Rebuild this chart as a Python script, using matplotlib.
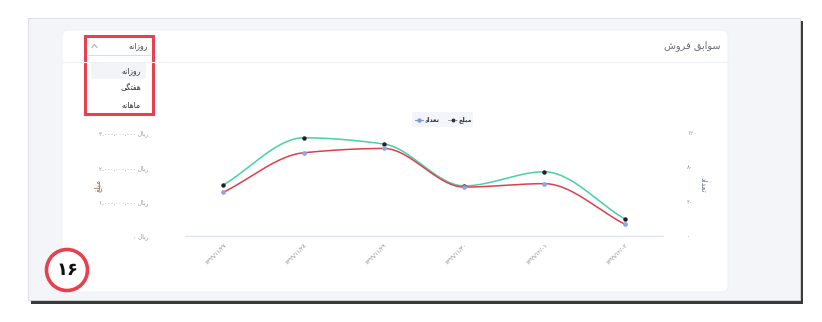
import numpy as np
import matplotlib
matplotlib.use("Agg")
import matplotlib.pyplot as plt
from matplotlib.patches import FancyBboxPatch, Rectangle, Circle

plt.rcParams['font.family'] = ['DejaVu Sans']

# ---- data -------------------------------------------------------------
dates = ['۱۳۹۹/۱۱/۲۷', '۱۳۹۹/۱۱/۲۸', '۱۳۹۹/۱۱/۲۹', '۱۳۹۹/۱۱/۳۰', '۱۳۹۹/۱۲/۰۱', '۱۳۹۹/۱۲/۰۲']
amounts = [1.49e9, 2.86e9, 2.68e9, 1.46e9, 1.87e9, 0.50e9]   # مبلغ (ریال)
counts = [51, 97, 102, 57, 61, 14]                             # تعداد
amount_ticks = [0, 1e9, 2e9, 3e9]
count_ticks = [0, 40, 80, 120]
periods = ['روزانه', 'هفتگی', 'ماهانه']

# ---- minimal Persian shaping (presentation forms, visual order) -------
FORMS = {
    'ا': ('\uFE8D', '\uFE8E', None, None),
    'ب': ('\uFE8F', '\uFE90', '\uFE91', '\uFE92'),
    'ت': ('\uFE95', '\uFE96', '\uFE97', '\uFE98'),
    'د': ('\uFEA9', '\uFEAA', None, None),
    'ر': ('\uFEAD', '\uFEAE', None, None),
    'ز': ('\uFEAF', '\uFEB0', None, None),
    'س': ('\uFEB1', '\uFEB2', '\uFEB3', '\uFEB4'),
    'ش': ('\uFEB5', '\uFEB6', '\uFEB7', '\uFEB8'),
    'ع': ('\uFEC9', '\uFECA', '\uFECB', '\uFECC'),
    'غ': ('\uFECD', '\uFECE', '\uFECF', '\uFED0'),
    'ف': ('\uFED1', '\uFED2', '\uFED3', '\uFED4'),
    'ق': ('\uFED5', '\uFED6', '\uFED7', '\uFED8'),
    'ل': ('\uFEDD', '\uFEDE', '\uFEDF', '\uFEE0'),
    'م': ('\uFEE1', '\uFEE2', '\uFEE3', '\uFEE4'),
    'ن': ('\uFEE5', '\uFEE6', '\uFEE7', '\uFEE8'),
    'ه': ('\uFEE9', '\uFEEA', '\uFEEB', '\uFEEC'),
    'و': ('\uFEED', '\uFEEE', None, None),
    'گ': ('\uFB92', '\uFB93', '\uFB94', '\uFB95'),
    'ی': ('\uFBFC', '\uFBFD', '\uFBFE', '\uFBFF'),
}


def dual(ch):
    return ch in FORMS and FORMS[ch][2] is not None


def fa(text):
    out = []
    for i, ch in enumerate(text):
        if ch not in FORMS:
            out.append(ch)
            continue
        prev = text[i - 1] if i > 0 else ''
        nxt = text[i + 1] if i + 1 < len(text) else ''
        jp = dual(prev)
        jn = dual(ch) and nxt in FORMS
        iso, fin, ini, med = FORMS[ch]
        if jp and jn:
            out.append(med)
        elif jp:
            out.append(fin)
        elif jn:
            out.append(ini)
        else:
            out.append(iso)
    return ''.join(reversed(out))


FA_DIGITS = str.maketrans('0123456789', '۰۱۲۳۴۵۶۷۸۹')


def fa_num(v):
    return format(int(v), ',').translate(FA_DIGITS)


def monotone(x, y, n=60):
    """Fritsch-Carlson monotone cubic through the points."""
    x = np.asarray(x, float)
    y = np.asarray(y, float)
    h = np.diff(x)
    d = np.diff(y) / h
    m = np.zeros_like(y)
    m[0], m[-1] = d[0], d[-1]
    for k in range(1, len(y) - 1):
        if d[k - 1] * d[k] <= 0:
            m[k] = 0
        else:
            w1 = 2 * h[k] + h[k - 1]
            w2 = h[k] + 2 * h[k - 1]
            m[k] = (w1 + w2) / (w1 / d[k - 1] + w2 / d[k])
    xs, ys = [], []
    for k in range(len(h)):
        t = np.linspace(0, 1, n, endpoint=(k == len(h) - 1))
        h00 = 2 * t**3 - 3 * t**2 + 1
        h10 = t**3 - 2 * t**2 + t
        h01 = -2 * t**3 + 3 * t**2
        h11 = t**3 - t**2
        xs.append(x[k] + t * h[k])
        ys.append(h00 * y[k] + h10 * h[k] * m[k] + h01 * y[k + 1] + h11 * h[k] * m[k + 1])
    return np.concatenate(xs), np.concatenate(ys)


# ---- figure & page decoration ------------------------------------------
W, H = 822, 322
PX = 72 / 100  # points per pixel at dpi 100
fig = plt.figure(figsize=(W / 100, H / 100), dpi=100)
fig.patch.set_facecolor('white')

bg = fig.add_axes([0, 0, 1, 1])
bg.set_xlim(0, W)
bg.set_ylim(H, 0)
bg.axis('off')

# page shadow and light page
bg.add_patch(Rectangle((31, 21), 772, 283, facecolor='#3a3a3a', edgecolor='none'))
bg.add_patch(Rectangle((28, 18), 772, 282, facecolor='#f4f5f8', edgecolor='#d8dadf', lw=0.6))

# card
bg.add_patch(FancyBboxPatch((62, 30), 666, 262, boxstyle='round,pad=0,rounding_size=6',
                            facecolor='white', edgecolor='#eceef2', lw=0.6))
bg.plot([62, 728], [62, 62], color='#f0f1f4', lw=0.8)
bg.text(720, 46, fa('سوابق فروش'), ha='right', va='center', fontsize=7, color='#6b6f76')

# period dropdown
bg.plot([88, 150], [55, 55], color='#bfe9f2', lw=0.8)
bg.text(148, 46, fa(periods[0]), ha='right', va='center', fontsize=5.5, color='#444')
bg.plot([92, 94.5, 97], [47.5, 44.5, 47.5], color='#aaaaaa', lw=0.7)
bg.add_patch(FancyBboxPatch((91, 62), 55, 17, boxstyle='round,pad=0,rounding_size=2',
                            facecolor='#f3f4f8', edgecolor='none'))
for i, p in enumerate(periods):
    bg.text(141, 70.5 + i * 17.5, fa(p), ha='right', va='center', fontsize=5.5, color='#333')
bg.add_patch(Rectangle((85, 36), 68, 78, facecolor='none', edgecolor='#e5414f', lw=2.2))

# legend
bg.add_patch(FancyBboxPatch((412, 112), 61, 15, boxstyle='round,pad=0,rounding_size=2',
                            facecolor='#f3f5fa', edgecolor='none'))
bg.plot([415, 423], [119.5, 119.5], color='#7f9be0', lw=0.8)
bg.plot([419], [119.5], 'o', color='#7f9be0', ms=2.2)
bg.text(440, 119.5, fa('تعداد'), ha='right', va='center', fontsize=4.6, color='#333', fontweight='bold')
bg.plot([448, 457], [119.5, 119.5], color='#555', lw=0.7, ls=(0, (1, 1)))
bg.plot([452.5], [119.5], 'o', color='#333', ms=1.8)
bg.text(472, 119.5, fa('مبلغ'), ha='right', va='center', fontsize=4.6, color='#333', fontweight='bold')

# badge
bg.add_patch(Circle((67, 270), 20.5, facecolor='white', edgecolor='#e5414f', lw=2.6))
bg.text(67, 270, '۱۶', ha='center', va='center', fontsize=13, fontweight='bold', color='#111')

# ---- chart -------------------------------------------------------------
x0, x1, yb, yt = 185, 663, 236, 133
ax = fig.add_axes([x0 / W, (H - yb) / H, (x1 - x0) / W, (yb - yt) / H])
ax.patch.set_alpha(0)
ax2 = ax.twinx()

pos = np.arange(len(dates))
xpad = 0.48
ax.set_xlim(pos[0] - xpad, pos[-1] + xpad)
ax.set_ylim(0, amount_ticks[-1])
ax2.set_ylim(0, count_ticks[-1])

sx, sy = monotone(pos, amounts)
ax.plot(sx, sy, color='#45d3a2', lw=1.1, clip_on=False, zorder=3)
ax.plot(pos, amounts, 'o', color='#222', ms=2.2, clip_on=False, zorder=4)

cx, cy = monotone(pos, counts)
ax2.plot(cx, cy, color='#e03e4a', lw=1.1, clip_on=False, zorder=3)
ax2.plot(pos, counts, 'o', color='#8fa6e6', ms=2.4, clip_on=False, zorder=4)

for a in (ax, ax2):
    for s in a.spines.values():
        s.set_visible(False)
ax.spines['bottom'].set_visible(True)
ax.spines['bottom'].set_color('#dde3f0')
ax.spines['bottom'].set_linewidth(0.9)

ax.set_xticks(pos)
ax.set_xticklabels(dates, rotation=45, ha='right', va='top', rotation_mode='anchor',
                   fontsize=4.0, color='#888')
ax.tick_params(axis='x', length=0, pad=6 * PX)

ax.set_yticks(amount_ticks)
ax.set_yticklabels([fa_num(v) + ' ' + fa('ریال') for v in amount_ticks], fontsize=4.2, color='#999')
ax.tick_params(axis='y', length=0, pad=37 * PX)

ax2.set_yticks(count_ticks)
ax2.set_yticklabels([fa_num(v) for v in count_ticks], fontsize=4.2, color='#999')
ax2.tick_params(axis='y', length=0, pad=24 * PX)

fig.text(97 / W, 1 - 185 / H, fa('مبلغ'), rotation=90, ha='center', va='center',
         fontsize=5.6, color='#9a6b45')
fig.text(703 / W, 1 - 185 / H, fa('تعداد'), rotation=270, ha='center', va='center',
         fontsize=5.6, color='#6b7585')

fig.savefig('out.png', dpi=100, facecolor='white')
